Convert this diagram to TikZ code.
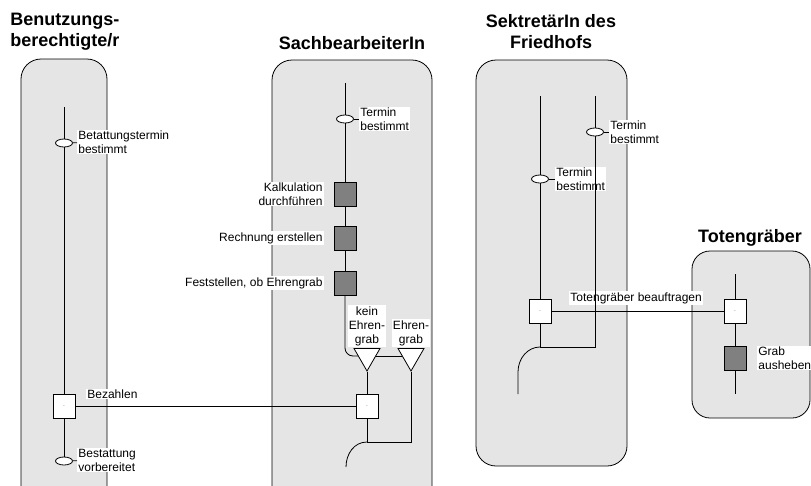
\documentclass[tikz,border=0pt]{standalone}
\usepackage{fontspec}
\setmainfont{Liberation Sans}
\usetikzlibrary{shapes.geometric,positioning}
\definecolor{lanegray}{RGB}{229,229,229}
\definecolor{taskgray}{RGB}{128,128,128}

\begin{document}
\begin{tikzpicture}[x=1pt,y=-1pt,line width=0.8pt]
\tikzstyle{lane}=[draw=black,fill=lanegray,rounded corners=20pt]
\tikzstyle{event}=[ellipse,draw=black,fill=white,inner sep=0pt,
minimum width=17pt,minimum height=8pt]
\tikzstyle{link}=[rectangle,draw=black,fill=white,inner sep=0pt,
minimum width=22pt,minimum height=24pt,font=\fontsize{5}{5}\selectfont]
\tikzstyle{task}=[rectangle,draw=black,fill=taskgray,inner sep=0pt,
minimum width=22pt,minimum height=24pt]
\tikzstyle{branch}=[regular polygon,regular polygon sides=3,shape border rotate=180,
draw=black,fill=white,inner sep=0pt,minimum size=30pt]
\tikzstyle{lbl}=[fill=white,inner sep=1pt,font=\fontsize{12}{14}\selectfont]
\tikzstyle{title}=[inner sep=0pt,font=\fontsize{18}{21}\selectfont\bfseries]

\useasboundingbox (0,0) rectangle (811,485);
\clip (0,0) rectangle (811,485);

% swimlanes
\draw[lane] (21,59) rectangle (107,515);
\draw[lane] (272,60) rectangle (432,515);
\draw[lane] (476,60) rectangle (627,466);
\draw[lane,rounded corners=18pt] (692,251) rectangle (810,418);

\node[title,align=left,anchor=west] at (10,32) (t1) {Benutzungs-\\berechtigte/r};
\node[title] at (352,43) (t2) {SachbearbeiterIn};
\node[title,align=center] at (551,32) (t3) {SektretärIn des\\Friedhofs};
\node[title] at (750,238) (t4) {Totengräber};

% Benutzungsberechtigte/r
\coordinate (a0) at (64,107);
\node[event] at (64,143) (a1) {};
\node[link] at (64,406) (a2) {.};
\node[event] at (64,461) (a3) {};
\node[lbl,align=left,anchor=west] at (77,142) (a1l) {Betattungstermin\\bestimmt};
\node[lbl,anchor=west] at (86,394) (a2l) {Bezahlen};
\node[lbl,align=left,anchor=west] at (77,460) (a3l) {Bestattung\\vorbereitet};
\draw (a0) -- (a1) -- (a2) -- (a3);
\draw (a1) -- (a1l);
\draw (a3) -- (a3l);

% SachbearbeiterIn
\coordinate (b0) at (345,83);
\node[event] at (345,119) (b1) {};
\node[task] at (345,194) (b2) {};
\node[task] at (345,238) (b3) {};
\node[task] at (345,283) (b4) {};
\node[branch] at (367,356) (b5) {};
\node[branch] at (411,356) (b6) {};
\node[link] at (367,406) (b7) {.};
\coordinate (b8) at (367,442);
\node[lbl,align=left,anchor=west] at (359,119) (b1l) {Termin\\bestimmt};
\node[lbl,align=right,anchor=east] at (324,194) (b2l) {Kalkulation\\durchführen};
\node[lbl,anchor=east] at (324,238) (b3l) {Rechnung erstellen};
\node[lbl,anchor=east] at (324,283) (b4l) {Feststellen, ob Ehrengrab};
\node[lbl,align=center,anchor=south] at (367,347) (b5l) {kein\\Ehren-\\grab};
\node[lbl,align=center,anchor=south] at (411,347) (b6l) {Ehren-\\grab};
\draw (b0) -- (b1) -- (b2) -- (b3) -- (b4);
\draw (b1) -- (b1l);
\draw[rounded corners=8pt] (b4) |- (b5);
\draw (b5) -- (b6);
\draw (b5) -- (b7) -- (b8);
\draw (b6) |- (b8);
\draw (b8) .. controls (354,442) and (346,454) .. (346,467);
\draw (a2) -- (b7);

% SektretaerIn des Friedhofs
\coordinate (c0) at (540,96);
\node[event] at (540,179) (c1) {};
\node[link] at (540,311) (c2) {.};
\coordinate (c3) at (540,347);
\coordinate (d0) at (595,96);
\node[event] at (595,132) (d1) {};
\node[lbl,align=left,anchor=west] at (555,179) (c1l) {Termin\\bestimmt};
\node[lbl,align=left,anchor=west] at (609,132) (d1l) {Termin\\bestimmt};
\node[lbl,anchor=west] at (569,298) (c2l) {Totengräber beauftragen};
\draw (c0) -- (c1) -- (c2) -- (c3);
\draw (d0) -- (d1) |- (c3);
\draw (c1) -- (c1l);
\draw (d1) -- (d1l);
\draw (c3) .. controls (528,347) and (518,358) .. (518,372) -- (518,394);

% Totengraeber
\coordinate (e0) at (735,274);
\node[link] at (735,311) (e1) {.};
\node[task] at (735,358) (e2) {};
\coordinate (e3) at (735,394);
\node[lbl,align=left,anchor=west] at (757,358) (e2l) {Grab\\ausheben};
\draw (e0) -- (e1) -- (e2) -- (e3);
\draw (c2) -- (e1);

\end{tikzpicture}
\end{document}
